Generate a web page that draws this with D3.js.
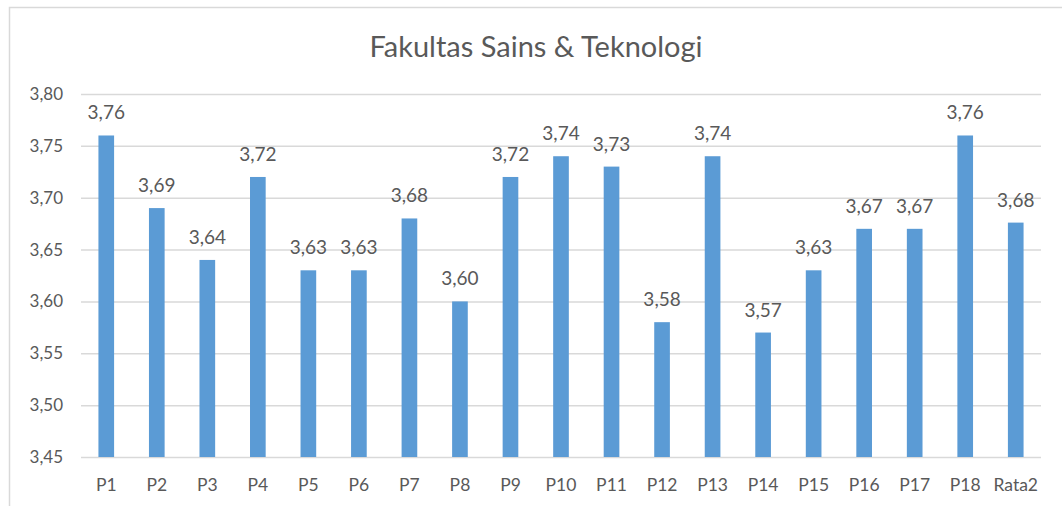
<!DOCTYPE html>
<html>
<head>
<meta charset="utf-8">
<script src="https://cdn.jsdelivr.net/npm/d3@7"></script>
<style>
  body { margin: 0; background: #fff; }
  svg text { font-family: Lato, "Open Sans", sans-serif; fill: #595959; }
</style>
</head>
<body>
<div id="chart"></div>
<script>
const categories = ['P1','P2','P3','P4','P5','P6','P7','P8','P9','P10','P11','P12','P13','P14','P15','P16','P17','P18','Rata2'];
const values = [3.76, 3.69, 3.64, 3.72, 3.63, 3.63, 3.68, 3.60, 3.72, 3.74, 3.73, 3.58, 3.74, 3.57, 3.63, 3.67, 3.67, 3.76, 3.676];
const yTicks = [3.45, 3.50, 3.55, 3.60, 3.65, 3.70, 3.75, 3.80];
const title = 'Fakultas Sains & Teknologi';

const W = 1062, H = 506;
const m = { top: 94, right: 21, bottom: 49, left: 81 };
const w = W - m.left - m.right;
const h = H - m.top - m.bottom;

const fmt = v => v.toFixed(2).replace('.', ',');

const svg = d3.select('#chart').append('svg').attr('width', W).attr('height', H);

// chart area border
svg.append('rect').attr('x', 9.5).attr('y', 7.5).attr('width', 1100).attr('height', 600)
  .attr('fill', 'none').attr('stroke', '#d9d9d9').attr('stroke-width', 1.5);

svg.append('text').attr('x', 536).attr('y', 57).attr('text-anchor', 'middle')
  .attr('font-size', 29).text(title);

const g = svg.append('g').attr('transform', `translate(${m.left},${m.top})`);

const x = d3.scaleBand().domain(categories).range([0, w]).paddingInner(0.69).paddingOuter(0.345);
const y = d3.scaleLinear().domain([3.45, 3.80]).range([h, 0]);

// Grid + y labels
const yAxis = g.append('g').call(d3.axisLeft(y).tickValues(yTicks).tickSize(-w).tickFormat(fmt));
yAxis.select('.domain').remove();
yAxis.selectAll('line').attr('stroke', '#d9d9d9').attr('stroke-width', 1.5);
yAxis.selectAll('text').attr('x', -18).attr('font-size', 17).attr('fill', '#595959');

// x labels
const xAxis = g.append('g').attr('transform', `translate(0,${h})`).call(d3.axisBottom(x).tickSize(0));
xAxis.select('.domain').remove();
xAxis.selectAll('text').attr('dy', 0).attr('y', 34).attr('font-size', 17.5).attr('fill', '#595959');

const data = categories.map((c, i) => ({ c, v: values[i] }));

g.selectAll('rect.bar').data(data).join('rect')
  .attr('class', 'bar')
  .attr('x', d => x(d.c))
  .attr('y', d => y(d.v))
  .attr('width', x.bandwidth())
  .attr('height', d => h - y(d.v))
  .attr('fill', '#5b9bd5');

g.selectAll('text.lbl').data(data).join('text')
  .attr('class', 'lbl')
  .attr('x', d => x(d.c) + x.bandwidth() / 2)
  .attr('y', d => y(d.v) - 16)
  .attr('text-anchor', 'middle')
  .attr('font-size', 19)
  .text(d => fmt(d.v));
</script>
</body>
</html>
